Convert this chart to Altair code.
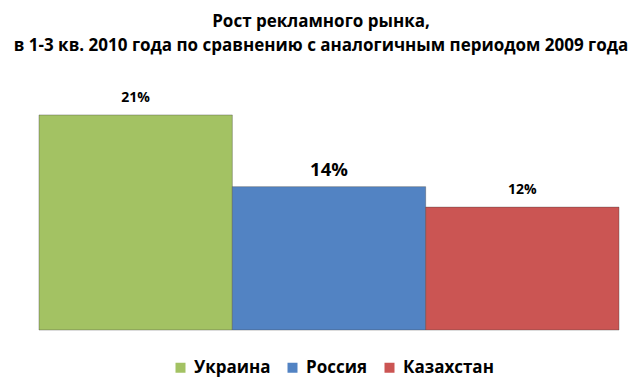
import altair as alt
import pandas as pd

countries = ["Украина", "Россия", "Казахстан"]
growth = [21, 14, 12]
labels = ["21%", "14%", "12%"]
colors = ["#A3C263", "#5283C3", "#CB5553"]

df = pd.DataFrame({"country": countries, "growth": growth, "label": labels})

color_scale = alt.Scale(domain=countries, range=colors)
x = alt.X("country:N", sort=countries, axis=None,
          scale=alt.Scale(paddingInner=0, paddingOuter=0))
y = alt.Y("growth:Q", axis=None, scale=alt.Scale(domain=[0, 25], nice=False))

bars = alt.Chart(df).mark_bar(stroke="#3a3a3a", strokeWidth=0.6, strokeOpacity=0.6).encode(
    x=x,
    y=y,
    color=alt.Color("country:N", scale=color_scale, sort=countries,
                    legend=alt.Legend(title=None, orient="none", direction="horizontal",
                                      legendX=133, legendY=285,
                                      symbolType="square", symbolSize=100,
                                      symbolStrokeWidth=0,
                                      labelFont="Open Sans", labelFontSize=17,
                                      labelFontWeight="bold", labelColor="#000000",
                                      labelOffset=5, columnPadding=13)),
)

text = alt.Chart(df).mark_text(dy=-17, font="Open Sans", fontWeight="bold", color="#000000").encode(
    x=x,
    y=y,
    text="label:N",
    size=alt.condition(alt.datum.country == "Россия", alt.value(18.5), alt.value(14)),
)

chart = alt.layer(bars, text).properties(
    width=580,
    height=256,
    autosize=alt.AutoSizeParams(type="none"),
    padding={"left": 31, "top": 66, "right": 17, "bottom": 50},
    title=alt.Title(
        ["Рост рекламного рынка,", "в 1-3 кв. 2010 года по сравнению с аналогичным периодом 2009 года"],
        font="Open Sans", fontSize=17, fontWeight="bold", color="#000000",
        anchor="middle", dx=-8, offset=19, lineHeight=24,
    ),
).configure_view(stroke=None).configure_legend(padding=0)

chart.save("out.html", embed_options={"renderer": "svg", "actions": False})
